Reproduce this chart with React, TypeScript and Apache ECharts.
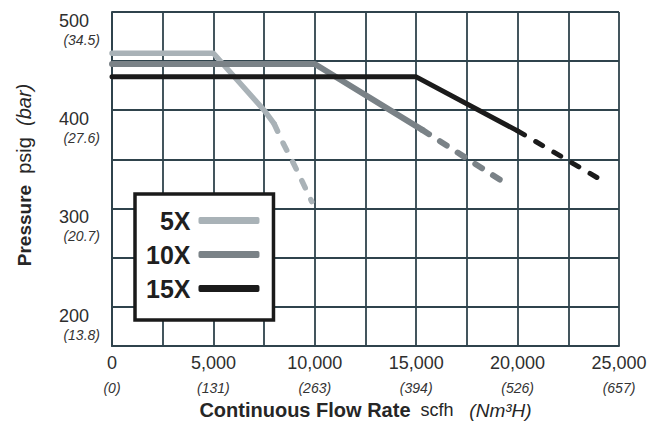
import React, { useEffect, useRef } from 'react';
import * as echarts from 'echarts';

const seriesNames = ['5X', '10X', '15X'];
const seriesColors = ['#a9b2b7', '#7a8287', '#1b1b1b'];
const solid5X = [[0, 458], [5000, 458], [6250, 429], [7500, 400], [8000, 386]];
const dashed5X = [[8000, 386], [8400, 368], [8900, 348], [9300, 331], [9850, 307]];
const solid10X = [[0, 447], [10000, 447], [15300, 380]];
const dashed10X = [[15300, 380], [19600, 323]];
const solid15X = [[0, 434], [15000, 434], [20000, 379]];
const dashed15X = [[20000, 379], [24450, 325]];

const xTickValues = [0, 5000, 10000, 15000, 20000, 25000];
const xTickLabels = ['0', '5,000', '10,000', '15,000', '20,000', '25,000'];
const xTickMetric = ['(0)', '(131)', '(263)', '(394)', '(526)', '(657)'];
const yTickValues = [200, 300, 400, 500];
const yTickMetric = ['(13.8)', '(20.7)', '(27.6)', '(34.5)'];
const yGridValues = [200, 250, 300, 350, 400, 450, 500];

const FONT = '"Liberation Sans", Arial, Helvetica, sans-serif';
const GRID_COLOR = '#2f434c';

export default function App() {
  const ref = useRef<HTMLDivElement>(null);
  useEffect(() => {
    if (!ref.current) return;
    const chart = echarts.init(ref.current, null, { renderer: 'svg' });
    const solids = [solid5X, solid10X, solid15X];
    const dashes = [dashed5X, dashed10X, dashed15X];
    const widths = [5.5, 6, 5];
    const series: any[] = [];
    seriesNames.forEach((name, i) => {
      series.push({
        name,
        type: 'line',
        data: solids[i],
        showSymbol: false,
        symbol: 'none',
        color: seriesColors[i],
        lineStyle: { color: seriesColors[i], width: widths[i], cap: 'round', join: 'round' },
        z: 3 + i,
      });
      series.push({
        name: name + ' ext',
        type: 'line',
        data: dashes[i],
        showSymbol: false,
        symbol: 'none',
        color: seriesColors[i],
        lineStyle: { color: seriesColors[i], width: widths[i], cap: 'round', join: 'round', type: [8, 13] },
        z: 3 + i,
      });
    });
    chart.setOption({
      animation: false,
      backgroundColor: '#ffffff',
      textStyle: { fontFamily: FONT },
      grid: { left: 112, top: 12, right: 37, bottom: 77, containLabel: false },
      xAxis: {
        type: 'value',
        min: 0,
        max: 25000,
        interval: 2500,
        axisLine: { show: true, lineStyle: { color: GRID_COLOR, width: 2 } },
        axisTick: { show: false },
        splitLine: { show: true, lineStyle: { color: GRID_COLOR, width: 1.8 } },
        axisLabel: {
          margin: 6,
          formatter: (v: number) => {
            const idx = xTickValues.indexOf(v);
            if (idx < 0) return '';
            return `{a|${xTickLabels[idx]}}\n{b|${xTickMetric[idx]}}`;
          },
          rich: {
            a: { fontSize: 18, lineHeight: 22, color: '#2e2e2e', fontFamily: FONT },
            b: { fontSize: 14, lineHeight: 28, fontStyle: 'italic', color: '#333', fontFamily: FONT },
          },
        },
        name: '{b|Continuous Flow Rate}{n|  scfh}{i|   (Nm³H)}',
        nameLocation: 'middle',
        nameGap: 53,
        nameTextStyle: {
          rich: {
            b: { fontSize: 20, fontWeight: 'bold', color: '#262626', lineHeight: 22, fontFamily: FONT },
            n: { fontSize: 18, color: '#262626', lineHeight: 22, fontFamily: FONT },
            i: { fontSize: 19, fontStyle: 'italic', color: '#262626', lineHeight: 22, fontFamily: FONT },
          },
        },
      },
      yAxis: {
        type: 'value',
        min: 160,
        max: 500,
        axisLine: { show: true, lineStyle: { color: GRID_COLOR, width: 2 } },
        axisTick: { show: false, customValues: yGridValues },
        splitLine: { show: true, lineStyle: { color: GRID_COLOR, width: 1.8 } },
        axisLabel: {
          customValues: yTickValues,
          margin: 12,
          verticalAlign: 'top',
          formatter: (v: number) => {
            const idx = yTickValues.indexOf(v);
            if (idx < 0) return '';
            return `{a|${v}}\n{b|${yTickMetric[idx]}}`;
          },
          rich: {
            a: { fontSize: 18, lineHeight: 18, color: '#2e2e2e', align: 'right', padding: [0, 11, 0, 0], fontFamily: FONT },
            b: { fontSize: 14, lineHeight: 20, fontStyle: 'italic', color: '#333', align: 'right', fontFamily: FONT },
          },
        },
        name: '{b|Pressure}{n|  psig}{i|  (bar)}',
        nameLocation: 'middle',
        nameGap: 77,
        nameTextStyle: {
          padding: [0, 0, 0, 8],
          rich: {
            b: { fontSize: 19, fontWeight: 'bold', color: '#262626', lineHeight: 22, fontFamily: FONT },
            n: { fontSize: 20, color: '#262626', lineHeight: 22, fontFamily: FONT },
            i: { fontSize: 20, fontStyle: 'italic', color: '#262626', lineHeight: 22, fontFamily: FONT },
          },
        },
      },
      legend: {
        data: seriesNames,
        orient: 'vertical',
        align: 'right',
        left: 135,
        top: 194,
        padding: [14, 14, 19, 11],
        itemGap: 9,
        itemWidth: 61,
        itemHeight: 7,
        icon: 'roundRect',
        backgroundColor: '#ffffff',
        borderColor: '#1a1a1a',
        borderWidth: 3.5,
        borderRadius: 0,
        textStyle: {
          fontSize: 25,
          fontWeight: 'bold',
          color: '#1f1f1f',
          lineHeight: 25,
          fontFamily: FONT,
          padding: [0, 3, 0, 0],
        },
        selectedMode: false,
      },
      series,
    });
    return () => chart.dispose();
  }, []);
  return <div ref={ref} style={{ position: 'fixed', left: 0, top: 0, width: 656, height: 425 }} />;
}
